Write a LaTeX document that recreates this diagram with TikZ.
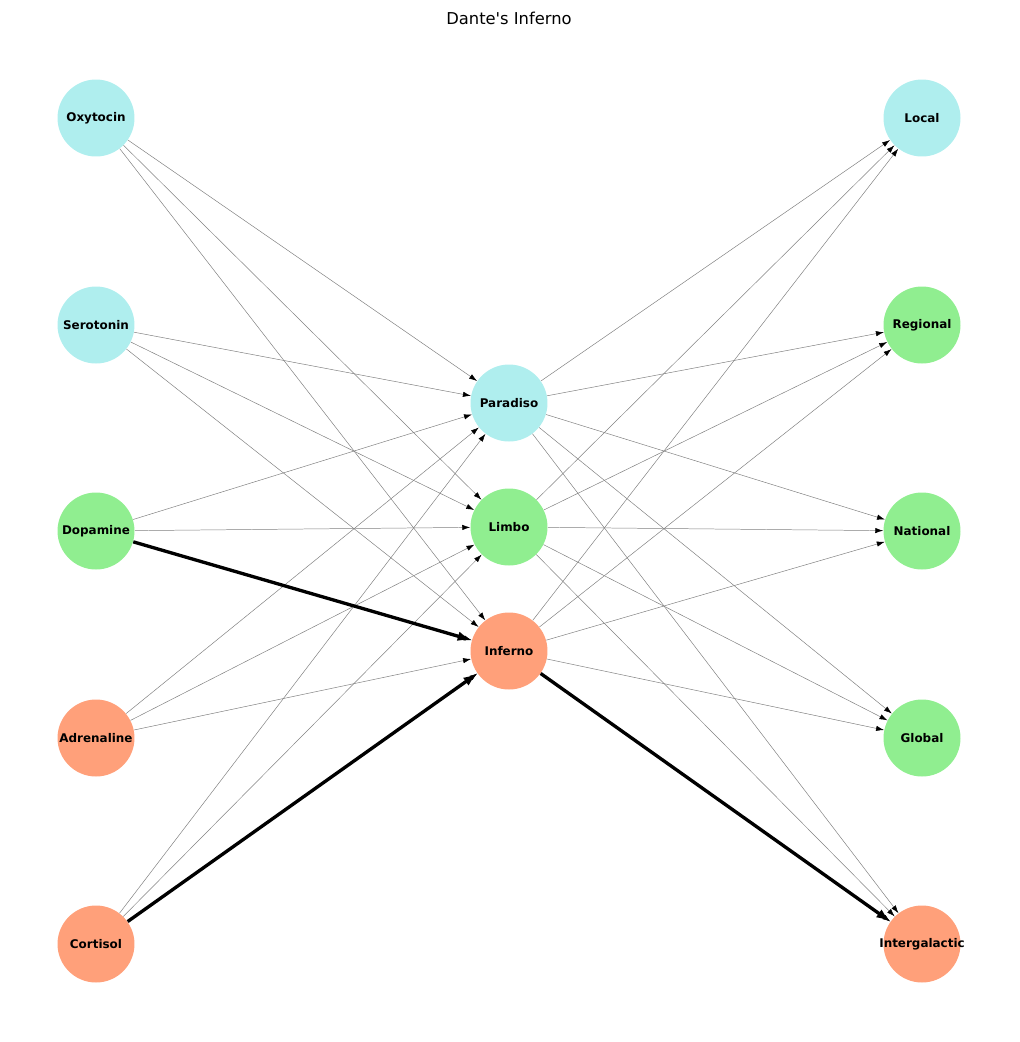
\documentclass[tikz,border=0pt]{standalone}
\usepackage{fontspec}
\setmainfont{DejaVu Sans}[Ligatures=TeXOff]
\usetikzlibrary{arrows.meta}

\definecolor{paleturq}{HTML}{AFEEEE}
\definecolor{lightgrn}{HTML}{90EE90}
\definecolor{lightsalm}{HTML}{FFA07A}

\begin{document}
\begin{tikzpicture}[x=0.02cm, y=-0.02cm,
    neuron/.style={circle, minimum size=1.54cm, inner sep=0pt,
        font=\fontsize{6.8}{8}\selectfont\bfseries},
    thin link/.style={-{Latex[length=4.5pt,width=3pt,color=black]}, line width=0.28pt, black!50},
    strong link/.style={-{Latex[length=8pt,width=5.5pt]}, line width=1.9pt, black}]
    \useasboundingbox (0,0) rectangle (1019,1042);

    % Title
    \node (title) at (509,18) {\fontsize{9.3}{11}\selectfont Dante's Inferno};

    % Left column
    \node[neuron, fill=paleturq] (oxy) at (96,118) {Oxytocin};
    \node[neuron, fill=paleturq] (sero) at (96,325) {Serotonin};
    \node[neuron, fill=lightgrn] (dopa) at (96,531) {Dopamine};
    \node[neuron, fill=lightsalm] (adren) at (96,738) {Adrenaline};
    \node[neuron, fill=lightsalm] (cort) at (96,944) {Cortisol};

    % Middle column
    \node[neuron, fill=paleturq] (para) at (509,403) {Paradiso};
    \node[neuron, fill=lightgrn] (limbo) at (509,527) {Limbo};
    \node[neuron, fill=lightsalm] (inferno) at (509,651) {Inferno};

    % Right column
    \node[neuron, fill=paleturq] (local) at (922,118) {Local};
    \node[neuron, fill=lightgrn] (regional) at (922,325) {Regional};
    \node[neuron, fill=lightgrn] (national) at (922,531) {National};
    \node[neuron, fill=lightgrn] (global) at (922,738) {Global};
    \node[neuron, fill=lightsalm] (inter) at (922,944) {\makebox[0pt]{Intergalactic}};

    % Thin links
    \foreach \a in {oxy,sero,dopa,adren,cort}
      \foreach \b in {para,limbo,inferno}
        \draw[thin link] (\a) -- (\b);
    \foreach \a in {para,limbo,inferno}
      \foreach \b in {local,regional,national,global,inter}
        \draw[thin link] (\a) -- (\b);

    % Strong path
    \draw[strong link] (dopa) -- (inferno);
    \draw[strong link] (cort) -- (inferno);
    \draw[strong link] (inferno) -- (inter);
\end{tikzpicture}
\end{document}
